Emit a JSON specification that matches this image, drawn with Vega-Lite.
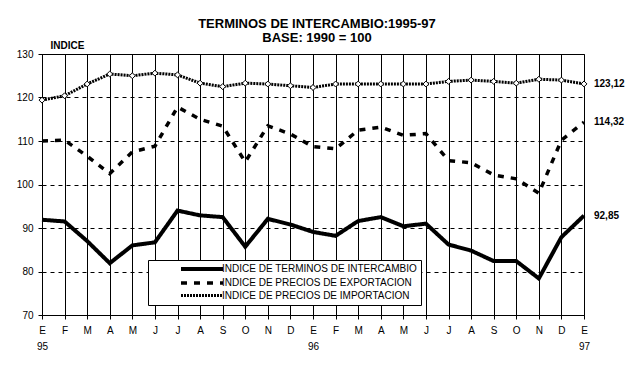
{
  "$schema": "https://vega.github.io/schema/vega-lite/v6.json",
  "width": 542,
  "height": 261,
  "autosize": "none",
  "padding": {"left": 42, "top": 54, "right": 50, "bottom": 55},
  "background": "white",
  "title": {
    "text": ["TERMINOS DE INTERCAMBIO:1995-97", "BASE: 1990 = 100"],
    "font": "Liberation Sans",
    "fontSize": 13,
    "fontWeight": "bold",
    "lineHeight": 14,
    "anchor": "middle",
    "frame": "group",
    "offset": 10,
    "dy": 15,
    "dx": 4,
    "color": "black"
  },
  "config": {
    "view": {"stroke": "black", "strokeWidth": 1},
    "font": "Liberation Sans",
    "axis": {
      "domainColor": "black",
      "tickColor": "black",
      "labelColor": "black",
      "labelFont": "Liberation Sans",
      "labelFontSize": 10,
      "tickSize": 4
    },
    "legend": {
      "title": null,
      "orient": "none",
      "legendX": 106,
      "legendY": 206,
      "direction": "vertical",
      "symbolType": "M-5.25,0H5.25",
      "symbolSize": 64,
      "symbolStrokeColor": "black",
      "symbolOffset": 45,
      "labelFont": "Liberation Sans",
      "labelFontSize": 10,
      "labelColor": "black",
      "labelOffset": 14,
      "labelLimit": 400,
      "rowPadding": -2,
      "padding": 3,
      "strokeColor": "black",
      "fillColor": "white"
    }
  },
  "data": {
    "values": [
      {"mes": 0, "serie": "INDICE DE TERMINOS DE INTERCAMBIO", "valor": 91.9},
      {"mes": 1, "serie": "INDICE DE TERMINOS DE INTERCAMBIO", "valor": 91.5},
      {"mes": 2, "serie": "INDICE DE TERMINOS DE INTERCAMBIO", "valor": 87.0},
      {"mes": 3, "serie": "INDICE DE TERMINOS DE INTERCAMBIO", "valor": 81.9},
      {"mes": 4, "serie": "INDICE DE TERMINOS DE INTERCAMBIO", "valor": 86.0},
      {"mes": 5, "serie": "INDICE DE TERMINOS DE INTERCAMBIO", "valor": 86.7},
      {"mes": 6, "serie": "INDICE DE TERMINOS DE INTERCAMBIO", "valor": 94.0},
      {"mes": 7, "serie": "INDICE DE TERMINOS DE INTERCAMBIO", "valor": 92.9},
      {"mes": 8, "serie": "INDICE DE TERMINOS DE INTERCAMBIO", "valor": 92.5},
      {"mes": 9, "serie": "INDICE DE TERMINOS DE INTERCAMBIO", "valor": 85.7},
      {"mes": 10, "serie": "INDICE DE TERMINOS DE INTERCAMBIO", "valor": 92.1},
      {"mes": 11, "serie": "INDICE DE TERMINOS DE INTERCAMBIO", "valor": 90.8},
      {"mes": 12, "serie": "INDICE DE TERMINOS DE INTERCAMBIO", "valor": 89.1},
      {"mes": 13, "serie": "INDICE DE TERMINOS DE INTERCAMBIO", "valor": 88.2},
      {"mes": 14, "serie": "INDICE DE TERMINOS DE INTERCAMBIO", "valor": 91.6},
      {"mes": 15, "serie": "INDICE DE TERMINOS DE INTERCAMBIO", "valor": 92.5},
      {"mes": 16, "serie": "INDICE DE TERMINOS DE INTERCAMBIO", "valor": 90.4},
      {"mes": 17, "serie": "INDICE DE TERMINOS DE INTERCAMBIO", "valor": 91.0},
      {"mes": 18, "serie": "INDICE DE TERMINOS DE INTERCAMBIO", "valor": 86.2},
      {"mes": 19, "serie": "INDICE DE TERMINOS DE INTERCAMBIO", "valor": 84.8},
      {"mes": 20, "serie": "INDICE DE TERMINOS DE INTERCAMBIO", "valor": 82.4},
      {"mes": 21, "serie": "INDICE DE TERMINOS DE INTERCAMBIO", "valor": 82.4},
      {"mes": 22, "serie": "INDICE DE TERMINOS DE INTERCAMBIO", "valor": 78.4},
      {"mes": 23, "serie": "INDICE DE TERMINOS DE INTERCAMBIO", "valor": 87.9},
      {"mes": 24, "serie": "INDICE DE TERMINOS DE INTERCAMBIO", "valor": 92.85, "etiqueta": "92,85"},
      {"mes": 0, "serie": "INDICE DE PRECIOS DE EXPORTACION", "valor": 110.0},
      {"mes": 1, "serie": "INDICE DE PRECIOS DE EXPORTACION", "valor": 110.2},
      {"mes": 2, "serie": "INDICE DE PRECIOS DE EXPORTACION", "valor": 106.5},
      {"mes": 3, "serie": "INDICE DE PRECIOS DE EXPORTACION", "valor": 102.5},
      {"mes": 4, "serie": "INDICE DE PRECIOS DE EXPORTACION", "valor": 107.5},
      {"mes": 5, "serie": "INDICE DE PRECIOS DE EXPORTACION", "valor": 108.8},
      {"mes": 6, "serie": "INDICE DE PRECIOS DE EXPORTACION", "valor": 117.8},
      {"mes": 7, "serie": "INDICE DE PRECIOS DE EXPORTACION", "valor": 115.0},
      {"mes": 8, "serie": "INDICE DE PRECIOS DE EXPORTACION", "valor": 113.4},
      {"mes": 9, "serie": "INDICE DE PRECIOS DE EXPORTACION", "valor": 105.2},
      {"mes": 10, "serie": "INDICE DE PRECIOS DE EXPORTACION", "valor": 113.5},
      {"mes": 11, "serie": "INDICE DE PRECIOS DE EXPORTACION", "valor": 111.6},
      {"mes": 12, "serie": "INDICE DE PRECIOS DE EXPORTACION", "valor": 108.7},
      {"mes": 13, "serie": "INDICE DE PRECIOS DE EXPORTACION", "valor": 108.2},
      {"mes": 14, "serie": "INDICE DE PRECIOS DE EXPORTACION", "valor": 112.5},
      {"mes": 15, "serie": "INDICE DE PRECIOS DE EXPORTACION", "valor": 113.2},
      {"mes": 16, "serie": "INDICE DE PRECIOS DE EXPORTACION", "valor": 111.3},
      {"mes": 17, "serie": "INDICE DE PRECIOS DE EXPORTACION", "valor": 111.7},
      {"mes": 18, "serie": "INDICE DE PRECIOS DE EXPORTACION", "valor": 105.5},
      {"mes": 19, "serie": "INDICE DE PRECIOS DE EXPORTACION", "valor": 105.0},
      {"mes": 20, "serie": "INDICE DE PRECIOS DE EXPORTACION", "valor": 102.2},
      {"mes": 21, "serie": "INDICE DE PRECIOS DE EXPORTACION", "valor": 101.3},
      {"mes": 22, "serie": "INDICE DE PRECIOS DE EXPORTACION", "valor": 98.0},
      {"mes": 23, "serie": "INDICE DE PRECIOS DE EXPORTACION", "valor": 110.2},
      {"mes": 24, "serie": "INDICE DE PRECIOS DE EXPORTACION", "valor": 114.32, "etiqueta": "114,32"},
      {"mes": 0, "serie": "INDICE DE PRECIOS DE IMPORTACION", "valor": 119.4},
      {"mes": 1, "serie": "INDICE DE PRECIOS DE IMPORTACION", "valor": 120.4},
      {"mes": 2, "serie": "INDICE DE PRECIOS DE IMPORTACION", "valor": 123.1},
      {"mes": 3, "serie": "INDICE DE PRECIOS DE IMPORTACION", "valor": 125.4},
      {"mes": 4, "serie": "INDICE DE PRECIOS DE IMPORTACION", "valor": 125.0},
      {"mes": 5, "serie": "INDICE DE PRECIOS DE IMPORTACION", "valor": 125.6},
      {"mes": 6, "serie": "INDICE DE PRECIOS DE IMPORTACION", "valor": 125.2},
      {"mes": 7, "serie": "INDICE DE PRECIOS DE IMPORTACION", "valor": 123.3},
      {"mes": 8, "serie": "INDICE DE PRECIOS DE IMPORTACION", "valor": 122.5},
      {"mes": 9, "serie": "INDICE DE PRECIOS DE IMPORTACION", "valor": 123.3},
      {"mes": 10, "serie": "INDICE DE PRECIOS DE IMPORTACION", "valor": 123.1},
      {"mes": 11, "serie": "INDICE DE PRECIOS DE IMPORTACION", "valor": 122.7},
      {"mes": 12, "serie": "INDICE DE PRECIOS DE IMPORTACION", "valor": 122.3},
      {"mes": 13, "serie": "INDICE DE PRECIOS DE IMPORTACION", "valor": 123.1},
      {"mes": 14, "serie": "INDICE DE PRECIOS DE IMPORTACION", "valor": 123.1},
      {"mes": 15, "serie": "INDICE DE PRECIOS DE IMPORTACION", "valor": 123.1},
      {"mes": 16, "serie": "INDICE DE PRECIOS DE IMPORTACION", "valor": 123.1},
      {"mes": 17, "serie": "INDICE DE PRECIOS DE IMPORTACION", "valor": 123.1},
      {"mes": 18, "serie": "INDICE DE PRECIOS DE IMPORTACION", "valor": 123.7},
      {"mes": 19, "serie": "INDICE DE PRECIOS DE IMPORTACION", "valor": 124.0},
      {"mes": 20, "serie": "INDICE DE PRECIOS DE IMPORTACION", "valor": 123.7},
      {"mes": 21, "serie": "INDICE DE PRECIOS DE IMPORTACION", "valor": 123.3},
      {"mes": 22, "serie": "INDICE DE PRECIOS DE IMPORTACION", "valor": 124.2},
      {"mes": 23, "serie": "INDICE DE PRECIOS DE IMPORTACION", "valor": 124.0},
      {"mes": 24, "serie": "INDICE DE PRECIOS DE IMPORTACION", "valor": 123.12, "etiqueta": "123,12"}
    ]
  },
  "encoding": {
    "x": {
      "field": "mes",
      "type": "quantitative",
      "scale": {"domain": [0, 24], "nice": false, "zero": false},
      "axis": {
        "title": null,
        "values": [0,1,2,3,4,5,6,7,8,9,10,11,12,13,14,15,16,17,18,19,20,21,22,23,24],
        "labelExpr": "[['E','F','M','A','M','J','J','A','S','O','N','D'][datum.value % 12], datum.value == 0 ? '95' : datum.value == 12 ? '96' : datum.value == 24 ? '97' : '']",
        "labelLineHeight": 16,
        "labelPadding": 6,
        "labelBaseline": "top",
        "labelFlush": false,
        "labelOverlap": false,
        "grid": true,
        "gridColor": "black",
        "gridOpacity": 1,
        "gridWidth": 1
      }
    },
    "y": {
      "field": "valor",
      "type": "quantitative",
      "scale": {"domain": [70, 130], "nice": false, "zero": false},
      "axis": {
        "values": [70, 80, 90, 100, 110, 120, 130],
        "title": "INDICE",
        "titleAngle": 0,
        "titleAlign": "left",
        "titleBaseline": "middle",
        "titleX": 8,
        "titleY": -9,
        "titleFont": "Liberation Sans",
        "titleFontSize": 10,
        "titleFontWeight": "bold",
        "titleColor": "black",
        "labelPadding": 5,
        "grid": true,
        "gridColor": "black",
        "gridOpacity": 1,
        "gridDash": [4, 4],
        "gridWidth": 1
      }
    }
  },
  "layer": [
    {
      "mark": {"type": "line", "color": "black", "strokeCap": "butt", "strokeJoin": "miter"},
      "encoding": {
        "strokeDash": {
          "field": "serie",
          "type": "nominal",
          "title": null,
          "scale": {
            "domain": ["INDICE DE TERMINOS DE INTERCAMBIO", "INDICE DE PRECIOS DE EXPORTACION", "INDICE DE PRECIOS DE IMPORTACION"],
            "range": [[1, 0], [6, 7], [2, 1]]
          }
        },
        "strokeWidth": {
          "field": "serie",
          "type": "nominal",
          "title": null,
          "scale": {
            "domain": ["INDICE DE TERMINOS DE INTERCAMBIO", "INDICE DE PRECIOS DE EXPORTACION", "INDICE DE PRECIOS DE IMPORTACION"],
            "range": [4, 3, 3]
          }
        }
      }
    },
    {
      "transform": [{"filter": "datum.serie == 'INDICE DE PRECIOS DE IMPORTACION'"}],
      "mark": {"type": "point", "shape": "diamond", "filled": true, "fill": "white", "stroke": "black", "strokeWidth": 1, "size": 35, "opacity": 1}
    },
    {
      "transform": [{"filter": "isValid(datum.etiqueta)"}],
      "mark": {"type": "text", "align": "left", "baseline": "middle", "dx": 10, "font": "Liberation Sans", "fontSize": 10, "fontWeight": "bold", "color": "black"},
      "encoding": {"text": {"field": "etiqueta"}}
    }
  ]
}
